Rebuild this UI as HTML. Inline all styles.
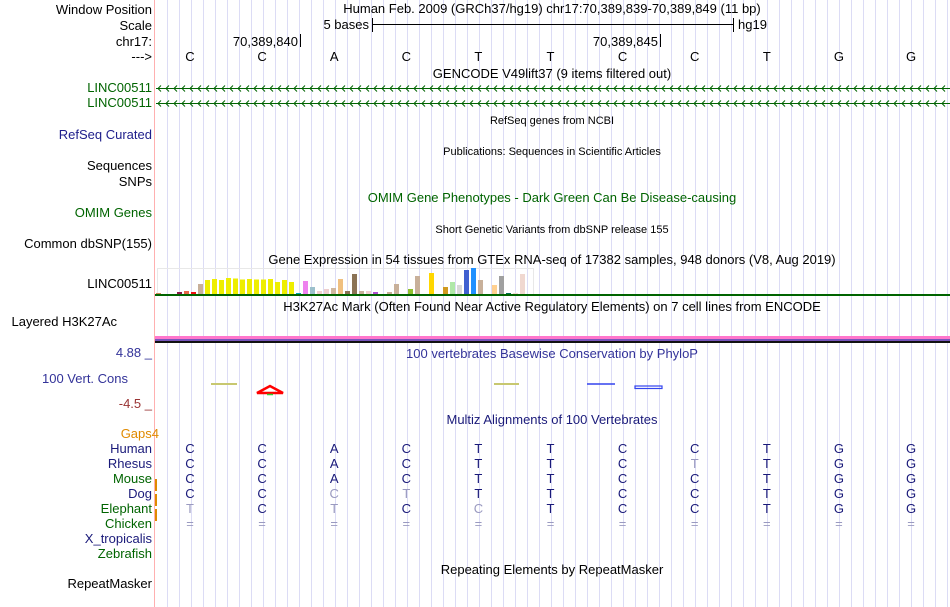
<!DOCTYPE html>
<html><head><meta charset="utf-8"><style>
html,body{margin:0;padding:0;background:#fff;}
svg{display:block;font-family:"Liberation Sans",sans-serif;}
</style></head><body>
<svg id="c" width="950" height="607" xmlns="http://www.w3.org/2000/svg">
<g id="grid"></g>
<line x1="154.5" y1="0" x2="154.5" y2="607" stroke="#ffb0b0"/>
<g font-size="13" text-anchor="end">
<text x="152" y="14" fill="#000">Window Position</text>
<text x="152" y="30" fill="#000">Scale</text>
<text x="152" y="46" fill="#000">chr17:</text>
<text x="152" y="61" fill="#000">---&gt;</text>
<text x="152" y="92" fill="#006400">LINC00511</text>
<text x="152" y="107" fill="#006400">LINC00511</text>
<text x="152" y="139" fill="#20208c">RefSeq Curated</text>
<text x="152" y="170" fill="#000">Sequences</text>
<text x="152" y="186" fill="#000">SNPs</text>
<text x="152" y="217" fill="#006400">OMIM Genes</text>
<text x="152" y="248" fill="#000">Common dbSNP(155)</text>
<text x="152" y="288" fill="#000">LINC00511</text>
<text x="117" y="326" fill="#000">Layered H3K27Ac</text>
<text x="152" y="357" fill="#333399">4.88 _</text>
<text x="128" y="383" fill="#333399">100 Vert. Cons</text>
<text x="152" y="408" fill="#993333">-4.5 _</text>
<text x="159" y="438" fill="#e08a00">Gaps4</text>
<text x="152" y="453" fill="#1a1a7a">Human</text>
<text x="152" y="468" fill="#1a1a7a">Rhesus</text>
<text x="152" y="483" fill="#006400">Mouse</text>
<text x="152" y="498" fill="#1a1a7a">Dog</text>
<text x="152" y="513" fill="#006400">Elephant</text>
<text x="152" y="528" fill="#006400">Chicken</text>
<text x="152" y="543" fill="#1a1a7a">X_tropicalis</text>
<text x="152" y="558" fill="#006400">Zebrafish</text>
<text x="152" y="588" fill="#000">RepeatMasker</text>
</g>
<rect x="155" y="479" width="2" height="12" fill="#e08a00"/>
<rect x="155" y="494" width="2" height="12" fill="#e08a00"/>
<rect x="155" y="509" width="2" height="12" fill="#e08a00"/>
<g font-size="13" text-anchor="middle">
<text x="552" y="13" fill="#000">Human Feb. 2009 (GRCh37/hg19)   chr17:70,389,839-70,389,849 (11 bp)</text>
<text x="552" y="78" fill="#000">GENCODE V49lift37 (9 items filtered out)</text>
<text x="552" y="124" fill="#000" font-size="11">RefSeq genes from NCBI</text>
<text x="552" y="155" fill="#000" font-size="11">Publications: Sequences in Scientific Articles</text>
<text x="552" y="202" fill="#006400">OMIM Gene Phenotypes - Dark Green Can Be Disease-causing</text>
<text x="552" y="233" fill="#000" font-size="11">Short Genetic Variants from dbSNP release 155</text>
<text x="552" y="264" fill="#000">Gene Expression in 54 tissues from GTEx RNA-seq of 17382 samples, 948 donors (V8, Aug 2019)</text>
<text x="552" y="311" fill="#000">H3K27Ac Mark (Often Found Near Active Regulatory Elements) on 7 cell lines from ENCODE</text>
<text x="552" y="358" fill="#333399">100 vertebrates Basewise Conservation by PhyloP</text>
<text x="552" y="424" fill="#1a1a7a">Multiz Alignments of 100 Vertebrates</text>
<text x="552" y="574" fill="#000">Repeating Elements by RepeatMasker</text>
</g>
<g font-size="13">
<text x="369" y="29" text-anchor="end">5 bases</text>
<line x1="372.5" y1="18" x2="372.5" y2="32" stroke="#000"/>
<line x1="372" y1="24.5" x2="733" y2="24.5" stroke="#000"/>
<line x1="733.5" y1="18" x2="733.5" y2="32" stroke="#000"/>
<text x="738" y="29">hg19</text>
<text x="298" y="46" text-anchor="end">70,389,840</text>
<line x1="300.5" y1="34" x2="300.5" y2="47" stroke="#000"/>
<text x="658" y="46" text-anchor="end">70,389,845</text>
<line x1="660.5" y1="34" x2="660.5" y2="47" stroke="#000"/>
</g>
<g id="bases" font-size="13" text-anchor="middle"></g>
<g id="genes"></g>
<rect x="157.5" y="268.5" width="376" height="26" fill="none" stroke="#e8e8e8"/>
<g id="gtex"></g>
<rect x="155" y="294" width="795" height="2" fill="#006400"/>
<rect x="155" y="336" width="795" height="3" fill="#ff77cc"/>
<rect x="155" y="339" width="795" height="2" fill="#7755bb"/>
<rect x="155" y="341" width="795" height="2" fill="#111"/>
<g>
<line x1="211" y1="384" x2="237" y2="384" stroke="#c8c870" stroke-width="2"/>
<polygon points="257,393 270,386 283,393" fill="none" stroke="#ff0000" stroke-width="2.5"/>
<line x1="267" y1="394.5" x2="273" y2="394.5" stroke="#33cc33" stroke-width="1.5"/>
<line x1="494" y1="384" x2="519" y2="384" stroke="#c8c870" stroke-width="2"/>
<line x1="587" y1="384" x2="615" y2="384" stroke="#3344ee" stroke-width="1.5"/>
<rect x="635" y="386" width="27" height="2.5" fill="none" stroke="#3344ee" stroke-width="1.2"/>
</g>
<g id="align" font-size="13" text-anchor="middle"></g>
</svg>
<script>
const ns="http://www.w3.org/2000/svg";
const bases=["C","C","A","C","T","T","C","C","T","G","G"];
const alignHuman="CCACTTCCTGG";
const alignRhesus="CCACTTCTTGG";
const alignMouse="CCACTTCCTGG";
const alignDog="CCCTTTCCTGG";
const alignElephant="TCTCCTCCTGG";
const gtexValues=[1,0,0,2,3,2,10,14,15,14,16,15.5,14.5,15,14.5,14.5,15,12,14,12,1,13,7,3,5,6,15,3,20,3,3,2,0,2,10,0,5,18,0,21,0,7,12,9,24,26,14,0,9,18,1,1,20,0];
const gtexColors=["#cc8855","#cc6644","#aa3355","#8b1a4b","#e8684a","#ee1111","#c8b09a","#eeee00","#eeee00","#eeee00","#eeee00","#eeee00","#eeee00","#eeee00","#eeee00","#eeee00","#eeee00","#eeee00","#eeee00","#eeee00","#00aaaa","#ee82ee","#9cc0cc","#f0d0d0","#eecfcf","#d0b8a0","#f0c080","#8b7355","#8b7355","#c8b09a","#f0d0d0","#b050d0","#c8b09a","#c8b09a","#c8b09a","#c8b09a","#90c030","#c8b09a","#c8b09a","#ffd700","#c8b09a","#d09a20","#b0e8a8","#d8d8d8","#4060d0","#2090ff","#c8b09a","#ffd090","#ffd090","#a0a0a0","#007050","#f0d8d0","#f0d8d0","#f0d8d0"];
function el(t,a,p){const e=document.createElementNS(ns,t);for(const k in a)e.setAttribute(k,a[k]);p.appendChild(e);return e;}
const grid=document.getElementById('grid');
for(let x=167;x<950;x+=12){
 const l=el('line',{x1:x+.5,y1:0,x2:x+.5,y2:607,stroke:'#dcdcf5'},grid);
 
 
}
const bx=i=>190+i*72.1;
const bg=document.getElementById('bases');
bases.forEach((b,i)=>{const t=el('text',{x:bx(i),y:61},bg);t.textContent=b;
 
 });
const genes=document.getElementById('genes');
[88,103].forEach(y=>{
 const l=el('line',{x1:156,y1:y+.5,x2:950,y2:y+.5,stroke:'#006400'},genes);
 
 
 let d='';for(let x=158;x<950;x+=8){d+=`M${x+3},${y-2.5} L${x},${y+.5} L${x+3},${y+3.5} `;}
 const p=el('path',{d:d,stroke:'#006400',fill:'none','stroke-width':1},genes);
 
 
});
const gt=document.getElementById('gtex');
const base=294, scale=1;
gtexValues.forEach((v,i)=>{if(v<=0)return;
 const r=el('rect',{x:156+i*7,y:base-v*scale,width:5,height:v*scale,fill:gtexColors[i]},gt);
 
 
});
const al=document.getElementById('align');
const dark='#1a1a7a', light='#9a9ac0';
const rows=[[alignHuman,453],[alignRhesus,468],[alignMouse,483],[alignDog,498],[alignElephant,513]];
rows.forEach(([s,y])=>{
 for(let i=0;i<s.length;i++){
  const t=el('text',{x:bx(i),y:y,fill:s[i]===alignHuman[i]?dark:light},al);
  t.textContent=s[i];
  
  
 }
});
for(let i=0;i<bases.length;i++){
 const t=el('text',{x:bx(i),y:528,fill:light},al);t.textContent='=';
 
 
}
</script>
</body></html>
